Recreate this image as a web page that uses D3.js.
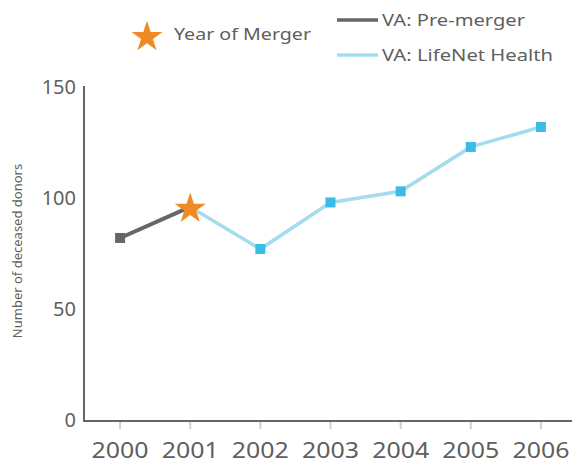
<!DOCTYPE html>
<html><head><meta charset="utf-8">
<script src="https://cdn.jsdelivr.net/npm/d3@7"></script>
<style>body{margin:0;background:#fff}svg{display:block}text{font-family:"Noto Sans",sans-serif;fill:#5f5f5f}</style>
</head><body><svg id="c" width="572" height="465"></svg>
<script>
const years = ["2000","2001","2002","2003","2004","2005","2006"];
const donors = [82, 96, 77, 98, 103, 123, 132];
const preMergerYears = ["2000","2001"];
const lifenetYears = ["2001","2002","2003","2004","2005","2006"];
const mergerYear = "2001";
const yTicks = [0, 50, 100, 150];
const yTitle = "Number of deceased donors";
const legendLabels = ["Year of Merger", "VA: Pre-merger", "VA: LifeNet Health"];

const val = {}; years.forEach((y,i)=>val[y]=donors[i]);
const svg = d3.select("#c");
const x = d3.scaleBand().domain(years).range([85, 576]).padding(0);
const cx = d => x(d) + x.bandwidth()/2;
const y = d3.scaleLinear().domain([0,150]).range([420, 87]);

const gray = "#666666", light = "#a3dcec", blue = "#3bbbe6", orange = "#f08a24";

// axes
const xa = svg.append("g").attr("transform","translate(0,421)")
  .call(d3.axisBottom(x).tickSize(8).tickPadding(14));
xa.select(".domain").remove();
xa.selectAll(".tick line").attr("stroke","#d0d0d0").attr("stroke-width",2);
xa.selectAll(".tick text").attr("font-size",21).attr("fill","#5f5f5f").attr("font-family","Noto Sans")
  .attr("textLength",57).attr("lengthAdjust","spacingAndGlyphs");
svg.append("line").attr("x1",84).attr("x2",572).attr("y1",421).attr("y2",421).attr("stroke",gray).attr("stroke-width",2);

const ya = svg.append("g").attr("transform","translate(84,0)")
  .call(d3.axisLeft(y).tickValues(yTicks).tickSize(0).tickPadding(8));
ya.select(".domain").remove();
ya.selectAll(".tick text").attr("font-size",20).attr("fill","#5f5f5f").attr("font-family","Noto Sans");
svg.append("line").attr("x1",84).attr("x2",84).attr("y1",86).attr("y2",422).attr("stroke",gray).attr("stroke-width",2);

svg.append("text").attr("transform","translate(22,251) rotate(-90)")
  .attr("text-anchor","middle").attr("font-size",13).text(yTitle);

// lines
const line = d3.line().x(d=>cx(d)).y(d=>y(val[d]));
svg.append("path").datum(lifenetYears).attr("d",line).attr("fill","none").attr("stroke",light).attr("stroke-width",3.5);
svg.append("path").datum(preMergerYears).attr("d",line).attr("fill","none").attr("stroke",gray).attr("stroke-width",4);

// markers
const sq = 10;
svg.selectAll("rect.m").data(years.filter(d=>d!==mergerYear)).join("rect")
  .attr("x",d=>cx(d)-sq/2).attr("y",d=>y(val[d])-sq/2).attr("width",sq).attr("height",sq)
  .attr("fill",d=>preMergerYears.includes(d)?gray:blue);
const star = d3.symbol(d3.symbolStar, 300);
svg.append("path").attr("d",star()).attr("fill",orange)
  .attr("transform",`translate(${cx(mergerYear)},${y(val[mergerYear])+2})`);

// legend
svg.append("path").attr("d",star()).attr("fill",orange).attr("transform","translate(147,37)");
svg.append("text").attr("x",174).attr("y",40).attr("font-size",17).attr("textLength",137).attr("lengthAdjust","spacingAndGlyphs").text(legendLabels[0]);
svg.append("line").attr("x1",337).attr("x2",378).attr("y1",20).attr("y2",20).attr("stroke",gray).attr("stroke-width",3.5);
svg.append("text").attr("x",382).attr("y",26).attr("font-size",17).attr("textLength",143).attr("lengthAdjust","spacingAndGlyphs").text(legendLabels[1]);
svg.append("line").attr("x1",337).attr("x2",378).attr("y1",55).attr("y2",55).attr("stroke",light).attr("stroke-width",3.5);
svg.append("text").attr("x",382).attr("y",61).attr("font-size",17).attr("textLength",171).attr("lengthAdjust","spacingAndGlyphs").text(legendLabels[2]);
</script></body></html>
